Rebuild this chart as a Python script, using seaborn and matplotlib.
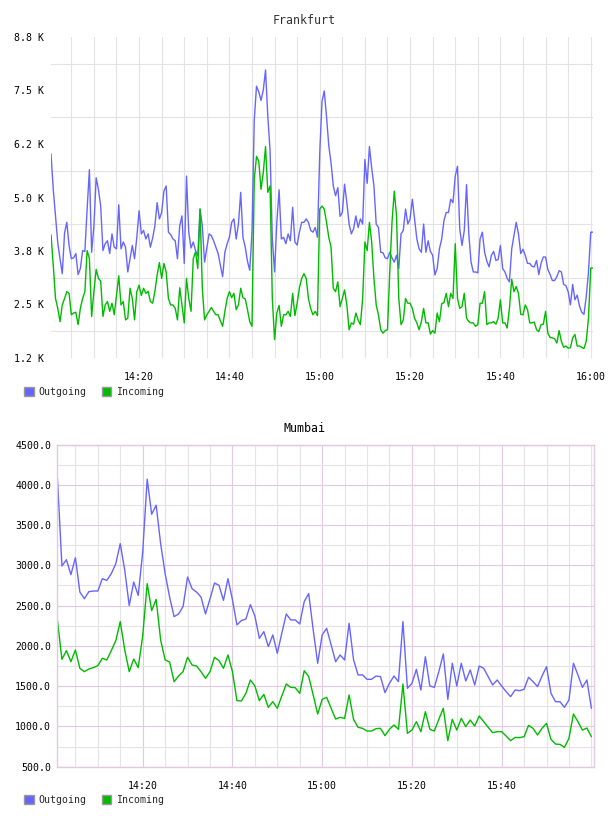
import matplotlib
matplotlib.use("Agg")
import numpy as np
import pandas as pd
import matplotlib.pyplot as plt
import matplotlib.dates as mdates
from matplotlib.patches import Patch
from matplotlib.ticker import FixedLocator, FixedFormatter
import seaborn as sns

# ---------------- data ----------------
series_names = ["Outgoing", "Incoming"]
series_colors = ["#6666ff", "#00bb00"]

# Frankfurt: samples every 30 s from 14:00:30, values in thousands
frankfurt_start = "2024-01-01 14:00:30"
frankfurt_step_s = 30
frankfurt_outgoing_k = [
    6.02, 5.19, 4.57, 3.94, 3.57, 3.22, 4.17, 4.42, 3.88, 3.57,
    3.59, 3.69, 3.20, 3.34, 3.76, 3.74, 4.73, 5.65, 3.72, 4.34,
    5.46, 5.19, 4.80, 3.76, 3.92, 3.99, 3.69, 4.15, 3.84, 3.80,
    4.83, 3.80, 3.96, 3.84, 3.26, 3.57, 3.88, 3.57, 4.07, 4.69,
    4.15, 4.23, 4.03, 4.15, 3.84, 4.05, 4.34, 4.88, 4.50, 4.65,
    5.15, 5.27, 4.19, 4.13, 4.03, 3.99, 3.57, 4.34, 4.57, 3.46,
    5.50,
    4.19, 3.82, 3.96, 3.76, 3.63, 4.73, 4.34, 3.49, 3.82, 4.15,
    4.11, 3.99, 3.84, 3.69, 3.42, 3.15, 3.72, 3.92, 4.07, 4.42,
    4.50, 4.03, 4.38, 5.12, 4.07, 3.84, 3.51, 3.30, 4.19, 6.81,
    7.60, 7.47, 7.27, 7.51, 7.98, 6.90, 6.10, 4.03, 3.26, 4.42,
    5.18, 4.03, 4.07, 3.92, 4.15, 3.99, 4.77, 3.96, 3.89, 4.19,
    4.42, 4.42, 4.50, 4.42, 4.23, 4.19, 4.30, 4.07, 6.04, 7.24,
    7.49, 6.89, 6.21, 5.81, 5.27, 5.04, 5.23, 4.56, 4.65, 5.31,
    4.88, 4.38, 4.15, 4.27, 4.57, 4.30, 4.50, 4.38, 5.89, 5.33,
    6.19, 5.69, 5.27, 4.38, 4.30, 3.72, 3.71, 3.59, 3.57, 3.72,
    3.59, 3.49, 3.65, 3.34, 4.15, 4.23, 4.73, 4.38, 4.50, 4.96,
    4.50, 4.03, 3.80, 3.72, 4.38, 3.72, 3.99, 3.74, 3.65, 3.19,
    3.34, 3.80, 4.03, 4.46, 4.65, 4.65, 4.96, 4.88, 5.50, 5.73,
    4.26, 3.88, 4.23, 5.30, 4.15, 3.49, 3.26, 3.26, 3.24, 4.03,
    4.19, 3.72, 3.51, 3.38, 3.65, 3.74, 3.53, 3.55, 3.88, 3.34,
    3.26, 3.11, 3.03, 3.80, 4.11, 4.42, 4.15, 3.69, 3.79, 3.65,
    3.46, 3.46, 3.39, 3.38, 3.53, 3.20, 3.46, 3.61, 3.61, 3.32,
    3.20, 3.06, 3.06, 3.15, 3.29, 3.26, 2.97, 2.94, 2.80, 2.49,
    2.97, 2.61, 2.72, 2.47, 2.32, 2.27, 2.68, 3.26, 4.19, 4.19,
]
frankfurt_incoming_k = [
    4.13, 3.42, 2.64, 2.41, 2.10, 2.49, 2.64, 2.80, 2.76, 2.26,
    2.30, 2.32, 2.03, 2.41, 2.64, 2.80, 3.76, 3.57, 2.22, 2.80,
    3.32, 3.11, 3.05, 2.22, 2.49, 2.57, 2.34, 2.53, 2.26, 2.72,
    3.17, 2.49, 2.57, 2.14, 2.18, 2.88, 2.64, 2.14, 2.80, 2.95,
    2.71, 2.88, 2.76, 2.81, 2.57, 2.53, 2.80, 3.19, 3.48, 3.11,
    3.46, 3.26, 2.64, 2.49, 2.49, 2.41, 2.14, 2.89, 2.49, 2.07,
    3.11,
    2.64, 2.34, 3.57, 3.73, 3.34, 4.73, 2.88, 2.14, 2.26, 2.34,
    2.43, 2.34, 2.26, 2.26, 2.12, 1.99, 2.34, 2.64, 2.80, 2.66,
    2.76, 2.38, 2.49, 2.88, 2.66, 2.63, 2.38, 2.10, 1.99, 5.42,
    5.96, 5.85, 5.19, 5.58, 6.19, 5.12, 5.27, 2.64, 1.68, 2.30,
    2.48, 1.99, 2.26, 2.26, 2.34, 2.22, 2.76, 2.24, 2.53, 2.89,
    3.11, 3.22, 3.11, 2.64, 2.40, 2.26, 2.34, 2.24, 4.73, 4.80,
    4.73, 4.42, 4.07, 3.84, 2.88, 2.80, 3.03, 2.45, 2.64, 2.84,
    2.49, 1.91, 2.07, 2.04, 2.30, 2.14, 2.03, 2.64, 3.96, 3.76,
    4.42, 3.96, 3.11, 2.49, 2.26, 1.91, 1.83, 1.89, 1.91, 3.26,
    4.42, 5.15, 4.57, 2.64, 2.03, 2.14, 2.64, 2.53, 2.53, 2.41,
    2.18, 2.07, 1.91, 2.10, 2.41, 2.07, 2.07, 1.81, 1.89, 1.83,
    2.30, 2.10, 2.52, 2.54, 2.76, 2.45, 2.76, 2.64, 3.92, 2.64,
    2.41, 2.45, 2.76, 2.18, 2.10, 2.07, 2.07, 1.99, 2.03, 2.53,
    2.53, 2.80, 2.03, 2.07, 2.07, 2.10, 2.04, 2.18, 2.61, 2.07,
    2.07, 1.95, 2.41, 3.09, 2.80, 2.92, 2.76, 2.27, 2.26, 2.49,
    2.38, 2.07, 2.07, 2.09, 1.91, 1.87, 2.03, 2.04, 2.34, 1.83,
    1.73, 1.72, 1.70, 1.60, 1.89, 1.64, 1.50, 1.53, 1.48, 1.49,
    1.72, 1.80, 1.53, 1.53, 1.50, 1.47, 1.64, 2.18, 3.35, 3.35,
]
frankfurt_yticks = [1250, 2500, 3750, 5000, 6250, 7500, 8750]
frankfurt_yticklabels = ["1.2 K", "2.5 K", "3.8 K", "5.0 K", "6.2 K", "7.5 K", "8.8 K"]

# Mumbai: samples every minute from 14:01
mumbai_start = "2024-01-01 14:01:00"
mumbai_step_s = 60
mumbai_outgoing = [
    4077, 2992, 3070, 2884, 3095, 2668, 2585, 2673, 2681, 2681,
    2834, 2813, 2896, 3021, 3269, 2938, 2500, 2793, 2627, 3166,
    4069, 3634, 3746, 3269, 2896, 2606, 2363, 2396, 2488, 2855,
    2710, 2668, 2606, 2396, 2585, 2780, 2752, 2565, 2834, 2573,
    2260, 2314, 2334, 2512, 2372, 2094, 2177, 1991, 2136, 1908,
    2156, 2396, 2322, 2322, 2272, 2550, 2650, 2198, 1784, 2136,
    2218, 2011, 1804, 1887, 1825, 2281, 1825, 1639, 1639, 1585,
    1585, 1626, 1618, 1419, 1535, 1626, 1556, 2301, 1473, 1535,
    1709, 1452, 1866, 1502, 1485, 1680, 1900, 1336, 1784, 1502,
    1784, 1564, 1701, 1514, 1750, 1721, 1618, 1514, 1577, 1502,
    1432, 1370, 1452, 1444, 1461, 1610, 1556, 1494, 1626, 1742,
    1411, 1307, 1307, 1237, 1328, 1784, 1639, 1485, 1577, 1225,
]
mumbai_incoming = [
    2314, 1833, 1941, 1804, 1949, 1721, 1680, 1713, 1730, 1755,
    1846, 1825, 1941, 2065, 2301, 1949, 1680, 1837, 1730, 2123,
    2772, 2438, 2577, 2073, 1825, 1800, 1556, 1626, 1680, 1858,
    1763, 1750, 1680, 1597, 1680, 1858, 1817, 1721, 1887, 1680,
    1320, 1316, 1411, 1577, 1502, 1320, 1398, 1237, 1307, 1225,
    1378, 1527, 1485, 1481, 1411, 1692, 1618, 1390, 1154, 1336,
    1361, 1225, 1092, 1113, 1100, 1390, 1088, 989, 976, 943,
    943, 972, 976, 885, 964, 1018, 964, 1527, 914, 955,
    1059, 935, 1183, 964, 943, 1088, 1225, 823, 1088, 955,
    1100, 997, 1080, 1005, 1129, 1059, 989, 922, 935, 935,
    881, 823, 864, 860, 873, 1013, 976, 893, 976, 1038,
    839, 781, 777, 740, 852, 1154, 1059, 955, 980, 873,
]
mumbai_yticks = [500, 1000, 1500, 2000, 2500, 3000, 3500, 4000, 4500]
mumbai_yticklabels = ["500.0", "1000.0", "1500.0", "2000.0", "2500.0",
                      "3000.0", "3500.0", "4000.0", "4500.0"]
mumbai_xtick_times = ["14:20", "14:40", "15:00", "15:20", "15:40"]

# ---------------- build frames ----------------
def long_frame(start, step_s, out_vals, in_vals):
    t = pd.date_range(start, periods=len(out_vals), freq=f"{step_s}s")
    return pd.concat([
        pd.DataFrame({"time": t, "value": out_vals, "series": series_names[0]}),
        pd.DataFrame({"time": t, "value": in_vals, "series": series_names[1]}),
    ], ignore_index=True)

fr = long_frame(frankfurt_start, frankfurt_step_s,
                [v * 1000 for v in frankfurt_outgoing_k],
                [v * 1000 for v in frankfurt_incoming_k])
mu = long_frame(mumbai_start, mumbai_step_s, mumbai_outgoing, mumbai_incoming)

sns.set_theme(style="white")
plt.rcParams["font.family"] = ["DejaVu Sans Mono", "DejaVu Sans"]

W, H = 608, 816
fig = plt.figure(figsize=(W / 100, H / 100), dpi=100)
palette = dict(zip(series_names, series_colors))

def px_axes(l, t, r, b):
    return fig.add_axes([l / W, 1 - b / H, (r - l) / W, (b - t) / H])

TICK_FS = 7.1
GRID_GREY = "#e3e3e3"

# ---------------- Frankfurt ----------------
ax1 = px_axes(51, 37, 593, 358)
sns.lineplot(data=fr, x="time", y="value", hue="series", palette=palette,
             hue_order=series_names, ax=ax1, legend=False, lw=1.0)
ax1.set_xlim(fr["time"].min(), fr["time"].max())
ax1.set_ylim(frankfurt_yticks[0], frankfurt_yticks[-1])
ax1.yaxis.set_major_locator(FixedLocator(frankfurt_yticks))
ax1.yaxis.set_major_formatter(FixedFormatter(frankfurt_yticklabels))
mids = [(a + b) / 2 for a, b in zip(frankfurt_yticks[:-1], frankfurt_yticks[1:])]
ax1.yaxis.set_minor_locator(FixedLocator(mids))
ax1.xaxis.set_major_locator(mdates.MinuteLocator(byminute=[0, 20, 40]))
ax1.xaxis.set_major_formatter(mdates.DateFormatter("%H:%M"))
ax1.xaxis.set_minor_locator(mdates.MinuteLocator(byminute=range(0, 60, 5)))
ax1.grid(False)
ax1.grid(True, axis="x", which="both", color=GRID_GREY, lw=0.8)
ax1.grid(True, axis="y", which="minor", color=GRID_GREY, lw=0.8)
for s in ax1.spines.values():
    s.set_visible(False)
ax1.tick_params(axis="both", which="both", length=0, labelsize=TICK_FS, colors="#000000")
ax1.tick_params(axis="y", pad=5)
ax1.tick_params(axis="x", pad=10)
ax1.set_xlabel("")
ax1.set_ylabel("")
ax1.set_axisbelow(True)

# ---------------- Mumbai ----------------
ax2 = px_axes(56.7, 444.5, 594, 766.7)
sns.lineplot(data=mu, x="time", y="value", hue="series", palette=palette,
             hue_order=series_names, ax=ax2, legend=False, lw=1.0)
t0 = mu["time"].min()
t1 = mu["time"].max()
ax2.set_xlim(t0 - pd.Timedelta(seconds=10), t1 + pd.Timedelta(seconds=35))
ax2.set_ylim(mumbai_yticks[0], mumbai_yticks[-1])
ax2.yaxis.set_major_locator(FixedLocator(mumbai_yticks))
ax2.yaxis.set_major_formatter(FixedFormatter(mumbai_yticklabels))
mids2 = [(a + b) / 2 for a, b in zip(mumbai_yticks[:-1], mumbai_yticks[1:])]
ax2.yaxis.set_minor_locator(FixedLocator(mids2))
xt = [mdates.date2num(pd.Timestamp("2024-01-01 " + s)) for s in mumbai_xtick_times]
ax2.xaxis.set_major_locator(FixedLocator(xt))
ax2.xaxis.set_major_formatter(FixedFormatter(mumbai_xtick_times))
ax2.xaxis.set_minor_locator(mdates.MinuteLocator(byminute=range(0, 60, 5)))
ax2.grid(False)
ax2.grid(True, which="minor", color="#e6e2e6", lw=0.8)
ax2.grid(True, which="major", color="#e2c8e2", lw=0.8)
for s in ax2.spines.values():
    s.set_visible(True)
    s.set_color("#e2c8e2")
    s.set_linewidth(1.0)
ax2.tick_params(axis="both", which="both", length=0, labelsize=TICK_FS, colors="#000000")
ax2.tick_params(axis="y", pad=4)
ax2.tick_params(axis="x", pad=10)
ax2.set_xlabel("")
ax2.set_ylabel("")
ax2.set_axisbelow(True)

# ---------------- titles ----------------
fig.text(304 / W, 1 - 20 / H, "Frankfurt", ha="center", va="center",
         fontsize=8.4, color="#333333")
fig.text(304 / W, 1 - 429 / H, "Mumbai", ha="center", va="center",
         fontsize=8.4, color="#000000")

# ---------------- legends ----------------
handles = [Patch(facecolor=c, edgecolor="#999999", lw=1.0) for c in series_colors]
for ycen in (392, 800):
    fig.legend(handles, series_names, loc="center left",
               bbox_to_anchor=(24 / W, 1 - ycen / H), ncol=2, frameon=False,
               fontsize=TICK_FS, handlelength=1.0, handleheight=1.0,
               handletextpad=0.5, columnspacing=1.5, borderpad=0,
               borderaxespad=0)

fig.savefig("out.png", dpi=100)
